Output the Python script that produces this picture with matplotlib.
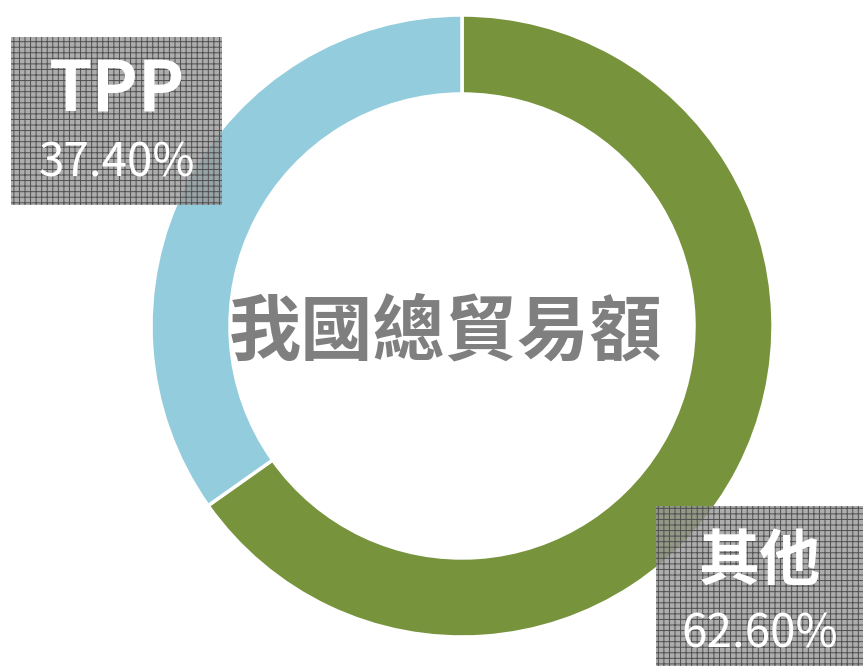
import matplotlib.pyplot as plt
from matplotlib.patches import Rectangle

plt.rcParams['font.family'] = ['Noto Sans CJK TC', 'DejaVu Sans']
plt.rcParams['hatch.linewidth'] = 0.7

# ── data ──────────────────────────────────────────────────────────────────────
labels = ["其他", "TPP"]
label_pct = [62.60, 37.40]          # as printed in the boxes
slice_share = [65.2, 34.8]          # ring split as drawn in the source chart
colors = ["#77933C", "#93CDDD"]
center_title = "我國總貿易額"

# ── figure in pixel coordinates (y axis points down) ─────────────────────────
W, H = 863, 671
fig = plt.figure(figsize=(W / 100, H / 100), dpi=100)
ax = fig.add_axes([0, 0, 1, 1])

# y is flipped, so start at 270 and go "counterclockwise" to look clockwise
ax.pie(slice_share, colors=colors, startangle=270, counterclock=True,
       center=(462, 326), radius=311, frame=True,
       wedgeprops=dict(width=79, edgecolor="white", linewidth=2.5))
ax.set_xlim(0, W)
ax.set_ylim(H, 0)
ax.set_aspect("equal")
ax.axis("off")

ax.text(446, 333, center_title, ha="center", va="center",
        fontsize=52, fontweight="semibold", color="#7F7F7F")


def label_box(x0, y0, w, h, name, pct, name_y, pct_y, name_size):
    ax.add_patch(Rectangle((x0, y0), w, h, facecolor=(0.6, 0.6, 0.6, 0.8),
                           edgecolor="#505050", linewidth=0, hatch="+++",
                           zorder=5))
    cx = x0 + w / 2
    ax.text(cx, name_y, name, ha="center", va="center", fontsize=name_size,
            fontweight="bold", color="white", zorder=6)
    ax.text(cx, pct_y, f"{pct:.2f}%", ha="center", va="center", fontsize=33,
            fontweight="medium", color="white", zorder=6)


label_box(11, 37, 211, 168, labels[1], label_pct[1], 90, 163, 50)
label_box(656, 506, 207, 160, labels[0], label_pct[0], 562, 634, 44)

fig.savefig("out.png", dpi=100)
